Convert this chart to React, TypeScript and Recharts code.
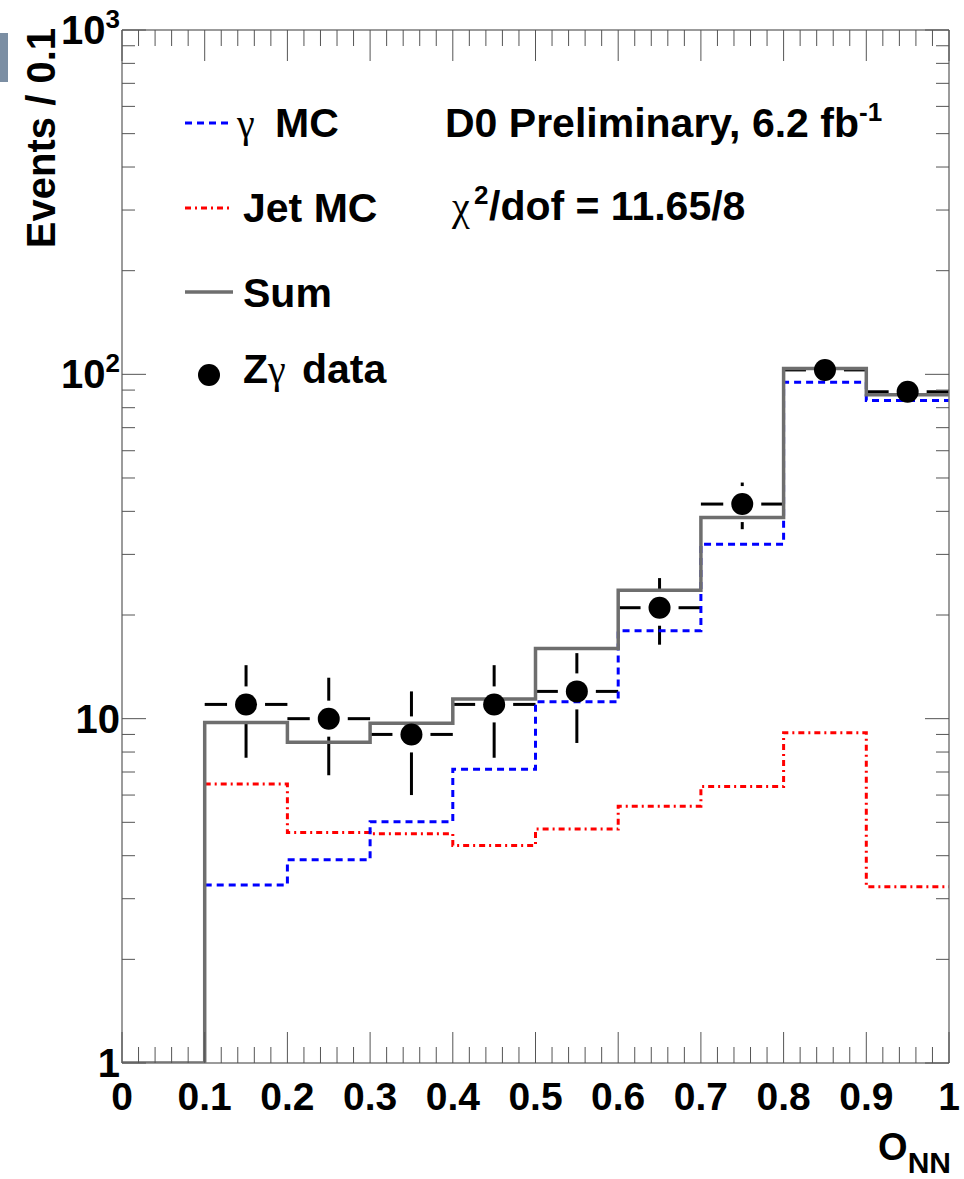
import React from 'react';
import {
  ComposedChart,
  Line,
  Scatter,
  XAxis,
  YAxis,
  useCartesianScale,
} from 'recharts';

// bin edges of the histograms (last edge repeats the final bin value)
const binEdges = [0.1, 0.2, 0.3, 0.4, 0.5, 0.6, 0.7, 0.8, 0.9, 1.0];
const gammaMC = [3.29, 3.89, 5.02, 7.13, 11.2, 18.0, 32.1, 94.8, 84.0, 84.0];
const jetMC = [6.46, 4.67, 4.63, 4.28, 4.78, 5.57, 6.35, 9.1, 3.25, 3.25];
const sumEdges = [0, 0.1, 0.2, 0.3, 0.4, 0.5, 0.6, 0.7, 0.8, 0.9, 1.0];
const sumMC = [1, 9.75, 8.54, 9.7, 11.4, 16.0, 23.6, 38.4, 104, 87.3, 87.3];

// Z gamma data points
const binCenters = [0.15, 0.25, 0.35, 0.45, 0.55, 0.65, 0.75, 0.85, 0.95];
const zgData = [11, 10, 9, 11, 12, 21, 42, 103, 89];
const zgErrLow = [3.3, 3.15, 3.0, 3.3, 3.5, 4.6, 6.5, 10.1, 9.4];
const zgErrHigh = [3.3, 3.15, 3.0, 3.3, 3.5, 4.6, 6.5, 10.1, 9.4];
const binHalfWidth = 0.05;

// axis ticks
const xMajorTicks = [0, 0.1, 0.2, 0.3, 0.4, 0.5, 0.6, 0.7, 0.8, 0.9, 1];
const xTickLabels = ['0', '0.1', '0.2', '0.3', '0.4', '0.5', '0.6', '0.7', '0.8', '0.9', '1'];
const yMajorTicks = [1, 10, 100, 1000];
const yTickLabels = [['1', ''], ['10', ''], ['10', '2'], ['10', '3']];

const xTicks: number[] = [];
for (let i = 0; i <= 50; i++) xTicks.push(Math.round(i * 2) / 100);
const yTicks: number[] = [];
for (const d of [1, 10, 100]) for (let m = 1; m < 10; m++) yTicks.push(m * d);
yTicks.push(1000);

const gammaData = binEdges.map((x, i) => ({ x, y: gammaMC[i] }));
const jetData = binEdges.map((x, i) => ({ x, y: jetMC[i] }));
const sumData = sumEdges.map((x, i) => ({ x, y: sumMC[i] }));
const pointData = binCenters.map((x, i) => ({
  x,
  y: zgData[i],
  lo: zgData[i] - zgErrLow[i],
  hi: zgData[i] + zgErrHigh[i],
}));

const FONT = '"Liberation Sans", Arial, Helvetica, sans-serif';
const SERIF = '"Liberation Serif", "DejaVu Serif", serif';
const FRAME = '#7a7a7a';
const TICK = '#555';

const isMajorX = (v: number) => xMajorTicks.some((t) => Math.abs(t - v) < 1e-6);

const XTickBottom = (props: any) => {
  const { x, y, payload } = props;
  const idx = xMajorTicks.findIndex((t) => Math.abs(t - payload.value) < 1e-6);
  const major = idx >= 0;
  return (
    <g>
      <line x1={x} x2={x} y1={y} y2={y - (major ? 31 : 16)} stroke={TICK} strokeWidth={1} />
      {major && (
        <text x={x} y={y + 47} textAnchor="middle" fontFamily={FONT} fontWeight="bold" fontSize={39} fill="#000">
          {xTickLabels[idx]}
        </text>
      )}
    </g>
  );
};

const XTickTop = (props: any) => {
  const { x, y, payload } = props;
  const major = isMajorX(payload.value);
  return <line x1={x} x2={x} y1={y} y2={y + (major ? 31 : 16)} stroke={TICK} strokeWidth={1} />;
};

const YTickLeft = (props: any) => {
  const { x, y, payload } = props;
  const idx = yMajorTicks.indexOf(payload.value);
  const major = idx >= 0;
  const [base, sup] = major ? yTickLabels[idx] : ['', ''];
  return (
    <g>
      <line x1={x} x2={x + (major ? 24 : 13)} y1={y} y2={y} stroke={TICK} strokeWidth={1} />
      {major && (
        <text x={x - 2} y={y + 14} textAnchor="end" fontFamily={FONT} fontWeight="bold" fontSize={40} fill="#000">
          {base}
          {sup && (
            <tspan fontSize={26} dy={-16}>
              {sup}
            </tspan>
          )}
        </text>
      )}
    </g>
  );
};

const YTickRight = (props: any) => {
  const { x, y, payload } = props;
  const major = yMajorTicks.includes(payload.value);
  return <line x1={x} x2={x - (major ? 24 : 13)} y1={y} y2={y} stroke={TICK} strokeWidth={1} />;
};

const DataPoint = (props: any) => <circle cx={props.cx} cy={props.cy} r={11} fill="#000" />;

// ROOT style error bars: no caps, left open around the marker
const GAP_V = 18;
const GAP_H = 19;
const DataErrors = ({ p }: { p: { x: number; y: number; lo: number; hi: number } }) => {
  const c = useCartesianScale({ x: p.x, y: p.y }, 'b', 'l');
  const top = useCartesianScale({ x: p.x, y: p.hi }, 'b', 'l');
  const bot = useCartesianScale({ x: p.x, y: p.lo }, 'b', 'l');
  const left = useCartesianScale({ x: p.x - binHalfWidth, y: p.y }, 'b', 'l');
  const right = useCartesianScale({ x: p.x + binHalfWidth, y: p.y }, 'b', 'l');
  if (!c || !top || !bot || !left || !right) return null;
  const segs: [number, number, number, number][] = [];
  if (c.y - top.y > GAP_V) segs.push([c.x, top.y, c.x, c.y - GAP_V]);
  if (bot.y - c.y > GAP_V) segs.push([c.x, c.y + GAP_V, c.x, bot.y]);
  segs.push([left.x, c.y, c.x - GAP_H, c.y]);
  segs.push([c.x + GAP_H, c.y, right.x, c.y]);
  return (
    <g>
      {segs.map((s, i) => (
        <line key={i} x1={s[0]} y1={s[1]} x2={s[2]} y2={s[3]} stroke="#000" strokeWidth={3} />
      ))}
    </g>
  );
};

const BLUE_DASH = '7 5';
const RED_DASH = '6 4 2 4';

export default function App() {
  return (
    <div style={{ position: 'absolute', left: 0, top: 0, width: 964, height: 1179, background: '#fff' }}>
      <ComposedChart width={964} height={1179} margin={{ top: 29, right: 14, bottom: 115, left: 121 }}>
        <XAxis
          xAxisId="b"
          dataKey="x"
          type="number"
          domain={[0, 1]}
          ticks={xTicks}
          interval={0}
          height={1}
          tickSize={0}
          tickMargin={0}
          tick={<XTickBottom />}
          axisLine={{ stroke: FRAME, strokeWidth: 1.5 }}
          allowDataOverflow
        />
        <XAxis
          xAxisId="t"
          orientation="top"
          dataKey="x"
          type="number"
          domain={[0, 1]}
          ticks={xTicks}
          interval={0}
          height={1}
          tickSize={0}
          tickMargin={0}
          tick={<XTickTop />}
          axisLine={{ stroke: FRAME, strokeWidth: 1.5 }}
          allowDataOverflow
        />
        <YAxis
          yAxisId="l"
          type="number"
          scale="log"
          domain={[1, 1000]}
          ticks={yTicks}
          interval={0}
          width={1}
          tickSize={0}
          tickMargin={0}
          tick={<YTickLeft />}
          axisLine={{ stroke: FRAME, strokeWidth: 1.5 }}
          allowDataOverflow
        />
        <YAxis
          yAxisId="r"
          orientation="right"
          type="number"
          scale="log"
          domain={[1, 1000]}
          ticks={yTicks}
          interval={0}
          width={1}
          tickSize={0}
          tickMargin={0}
          tick={<YTickRight />}
          axisLine={{ stroke: FRAME, strokeWidth: 1.5 }}
          allowDataOverflow
        />
        <Line
          xAxisId="b"
          yAxisId="l"
          data={jetData}
          dataKey="y"
          type="stepAfter"
          stroke="#ff0000"
          strokeWidth={3}
          strokeDasharray={RED_DASH}
          dot={false}
          isAnimationActive={false}
        />
        <Line
          xAxisId="b"
          yAxisId="l"
          data={gammaData}
          dataKey="y"
          type="stepAfter"
          stroke="#0000ff"
          strokeWidth={3}
          strokeDasharray={BLUE_DASH}
          dot={false}
          isAnimationActive={false}
        />
        <Line
          xAxisId="b"
          yAxisId="l"
          data={sumData}
          dataKey="y"
          type="stepAfter"
          stroke="#6e6e6e"
          strokeWidth={3.5}
          dot={false}
          isAnimationActive={false}
        />
        {pointData.map((p, i) => (
          <DataErrors key={i} p={p} />
        ))}
        <Scatter
          xAxisId="b"
          yAxisId="l"
          data={pointData}
          dataKey="y"
          shape={<DataPoint />}
          isAnimationActive={false}
        />
      </ComposedChart>

      <svg width={964} height={1179} style={{ position: 'absolute', left: 0, top: 0, pointerEvents: 'none' }}>
        <rect x={0} y={33} width={8} height={49} fill="#7b8ea3" />
        <text
          transform="translate(55, 28) rotate(-90)"
          textAnchor="end"
          fontFamily={FONT}
          fontWeight="bold"
          fontSize={40}
        >
          Events / 0.1
        </text>
        <text x={951} y={1160} textAnchor="end" fontFamily={FONT} fontWeight="bold" fontSize={38}>
          O<tspan fontSize={30} dy={13}>NN</tspan>
        </text>

        {/* legend */}
        <line x1={185} x2={233} y1={123} y2={123} stroke="#0000ff" strokeWidth={3} strokeDasharray={BLUE_DASH} />
        <text x={237} y={137} fontFamily={SERIF} fontSize={40}>
          γ
        </text>
        <text x={275} y={137} fontFamily={FONT} fontWeight="bold" fontSize={41}>
          MC
        </text>
        <line x1={185} x2={233} y1={208} y2={208} stroke="#ff0000" strokeWidth={3} strokeDasharray={RED_DASH} />
        <text x={243} y={222} fontFamily={FONT} fontWeight="bold" fontSize={41}>
          Jet MC
        </text>
        <line x1={185} x2={233} y1={292} y2={292} stroke="#6e6e6e" strokeWidth={3.5} />
        <text x={243} y={307} fontFamily={FONT} fontWeight="bold" fontSize={41}>
          Sum
        </text>
        <circle cx={209} cy={375} r={11} fill="#000" />
        <text x={243} y={383} fontFamily={FONT} fontWeight="bold" fontSize={41}>
          Z
        </text>
        <text x={268} y={383} fontFamily={SERIF} fontSize={40}>
          γ
        </text>
        <text x={302} y={383} fontFamily={FONT} fontWeight="bold" fontSize={41}>
          data
        </text>

        <text x={445} y={137} fontFamily={FONT} fontWeight="bold" fontSize={41}>
          D0 Preliminary, 6.2 fb<tspan fontSize={26} dy={-16}>-1</tspan>
        </text>
        <text x={452} y={220} fontFamily={SERIF} fontSize={40}>
          χ
        </text>
        <text x={474} y={204} fontFamily={FONT} fontWeight="bold" fontSize={26}>
          2
        </text>
        <text x={489} y={220} fontFamily={FONT} fontWeight="bold" fontSize={41}>
          /dof = 11.65/8
        </text>
      </svg>
    </div>
  );
}
